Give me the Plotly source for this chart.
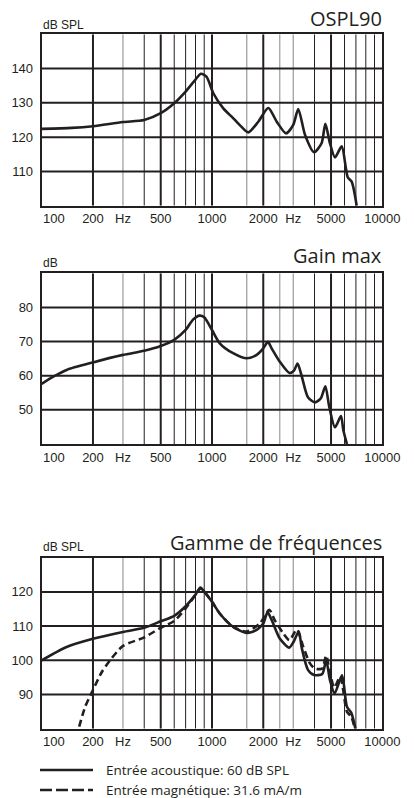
import plotly.graph_objects as go

# ---------------- data ----------------
X_TICKS = [100, 200, 300, 500, 1000, 2000, 3000, 5000, 10000]
X_TICKTEXT = ["", "200", "Hz", "500", "1000", "2000", "Hz", "5000", "10000"]
X_THICK = [200, 500, 1000, 2000, 5000]
X_THIN = [400, 600, 700, 800, 900, 4000, 6000, 7000, 8000, 9000]
X_GRAY = [300, 1600, 2500, 3000]

TITLES = ["OSPL90", "Gain max", "Gamme de fréquences"]
UNITS = ["dB SPL", "dB", "dB SPL"]
Y_RANGES = [(100, 150), (40, 90), (80, 130)]
Y_TICKS = [[110, 120, 130, 140], [50, 60, 70, 80], [90, 100, 110, 120]]

F_OSPL = [100, 150, 200, 300, 400, 500, 600, 700, 800, 860, 930, 1018, 1165, 1334, 1470,
          1633, 1870, 2140, 2400, 2720, 3000, 3210, 3520, 3970, 4400, 4630, 4930, 5275,
          5775, 6265, 6610, 7070]
V_OSPL = [122.4, 122.7, 123.2, 124.4, 125.0, 127.0, 129.9, 133.3, 136.8, 138.5, 137.6,
          132.8, 128.4, 125.5, 123.3, 121.4, 124.5, 128.5, 124.5, 121.1, 123.6, 128.2,
          120.6, 115.6, 118.2, 123.9, 118.2, 114.1, 117.3, 108.3, 107.0, 100.0]

F_GAIN = [100, 117, 140, 200, 300, 400, 500, 600, 700, 776, 845, 900, 1000, 1110, 1330,
          1600, 1830, 2000, 2130, 2240, 2500, 2850, 3030, 3180, 3370, 3660, 4020, 4360,
          4630, 4880, 5275, 5720, 5900, 6200]
V_GAIN = [57.6, 59.7, 61.7, 63.9, 66.1, 67.3, 68.7, 70.5, 73.4, 76.5, 77.6, 77.1, 73.4,
          69.5, 66.6, 65.1, 66.1, 68.0, 69.9, 68.0, 64.1, 60.8, 61.5, 63.6, 59.7, 53.7,
          52.2, 53.4, 56.9, 50.9, 44.9, 48.2, 44.1, 40.0]

F_AC = [100, 140, 200, 300, 400, 500, 600, 700, 800, 855, 900, 1000, 1110, 1330, 1600,
        1830, 2000, 2120, 2240, 2500, 2840, 3000, 3230, 3370, 3660, 3980, 4440, 4680,
        4930, 5250, 5800, 6200, 6570, 6950]
V_AC = [100.0, 103.9, 106.3, 108.3, 109.5, 111.4, 113.0, 115.8, 119.2, 121.3, 120.1,
        117.1, 113.7, 109.8, 108.0, 108.9, 110.8, 114.0, 111.8, 106.4, 103.7, 105.2,
        108.4, 103.5, 97.2, 95.7, 96.0, 100.0, 94.2, 90.3, 95.6, 86.4, 84.7, 80.0]

F_MAG = [166, 180, 200, 225, 252, 300, 400, 500, 600, 700, 800, 855, 900, 1000, 1110,
         1330, 1600, 1910, 2170, 2330, 2620, 2850, 3150, 3430, 3760, 4020, 4440, 4680,
         4930, 5230, 5660, 6200, 6570, 6900]
V_MAG = [80.6, 86.4, 91.3, 96.5, 100.0, 104.2, 106.7, 109.5, 111.5, 115.2, 119.1, 121.0,
         120.1, 117.1, 113.7, 109.8, 108.4, 110.8, 114.8, 111.8, 107.9, 105.9, 109.0,
         104.0, 99.1, 97.6, 97.6, 101.4, 96.2, 92.0, 95.2, 85.0, 83.5, 80.0]

LEGEND = ["Entrée acoustique: 60 dB SPL", "Entrée magnétique: 31.6 mA/m"]

# ---------------- layout helpers ----------------
W, H = 414, 798
PX_L, PX_R = 41.7, 382.3
PLOTS_PX = [(34.3, 205.7), (273.3, 444.0), (557.7, 728.7)]
INK = "#231f20"
TICK_FONT = dict(family="Liberation Sans Narrow, Arial Narrow, Liberation Sans, Arial", size=13, color=INK)
TITLE_FONT = dict(family="Open Sans, Roboto, sans-serif", size=20, color=INK)
LEG_FONT = dict(family="Open Sans, Roboto, sans-serif", size=13.5, color=INK)


def px_x(x):
    return x / W


def px_y(y):
    return 1 - y / H


fig = go.Figure()
annotations = []
shapes = []

curves = [
    [(F_OSPL, V_OSPL, "solid")],
    [(F_GAIN, V_GAIN, "solid")],
    [(F_AC, V_AC, "solid"), (F_MAG, V_MAG, "7px,4px")],
]

for i in range(3):
    xa = "x" if i == 0 else f"x{i+1}"
    ya = "y" if i == 0 else f"y{i+1}"
    lo, hi = Y_RANGES[i]
    # vertical grid lines
    for vals, col, wd in [(X_GRAY, "#9a9a9a", 1.2), (X_THIN, INK, 1.0), (X_THICK, INK, 2.0)]:
        xs, ys = [], []
        for v in vals:
            xs += [v, v, None]
            ys += [lo, hi, None]
        fig.add_trace(go.Scatter(x=xs, y=ys, mode="lines", line=dict(color=col, width=wd),
                                 xaxis=xa, yaxis=ya, showlegend=False, hoverinfo="skip"))
    # horizontal grid lines
    xs, ys = [], []
    for v in Y_TICKS[i]:
        xs += [100, 10000, None]
        ys += [v, v, None]
    fig.add_trace(go.Scatter(x=xs, y=ys, mode="lines", line=dict(color=INK, width=2.0),
                             xaxis=xa, yaxis=ya, showlegend=False, hoverinfo="skip"))
    for fx, vy, dash in curves[i]:
        fig.add_trace(go.Scatter(x=fx, y=vy, mode="lines",
                                 line=dict(color=INK, width=2.6, dash=dash, shape="spline", smoothing=0.7),
                                 xaxis=xa, yaxis=ya, showlegend=False))

    top, bot = PLOTS_PX[i]
    xkey = "xaxis" if i == 0 else f"xaxis{i+1}"
    ykey = "yaxis" if i == 0 else f"yaxis{i+1}"
    fig.update_layout(**{
        xkey: dict(type="log", range=[2, 4], domain=[px_x(PX_L), px_x(PX_R)], anchor=ya,
                   tickvals=X_TICKS, ticktext=X_TICKTEXT, tickfont=TICK_FONT, automargin=False,
                   showgrid=False, zeroline=False, showline=True, mirror=True,
                   linecolor=INK, linewidth=2, ticks="", ticklabelstandoff=0),
        ykey: dict(range=[lo, hi], domain=[px_y(bot), px_y(top)], anchor=xa,
                   tickvals=Y_TICKS[i], tickfont=TICK_FONT, automargin=False,
                   showgrid=False, zeroline=False, showline=True, mirror=True,
                   linecolor=INK, linewidth=2, ticks="", ticklabelstandoff=4),
    })
    # "100" label, left aligned at the axis start
    annotations.append(dict(text="100", x=px_x(PX_L - 1), y=px_y(bot + 13.0), xref="paper", yref="paper",
                            xanchor="left", yanchor="middle", showarrow=False, font=TICK_FONT))
    # title and unit
    title_y = [18.5, 255.5, 542.0][i]
    unit_y = [25.5, 263.0, 547.0][i]
    annotations.append(dict(text=TITLES[i], x=px_x(PX_R + 2), y=px_y(title_y), xref="paper", yref="paper",
                            xanchor="right", align="right", yanchor="middle", showarrow=False,
                            font=TITLE_FONT))
    annotations.append(dict(text=UNITS[i], x=px_x(PX_L - 1), y=px_y(unit_y), xref="paper", yref="paper",
                            xanchor="left", yanchor="middle", showarrow=False,
                            font=dict(family=TICK_FONT["family"], size=12, color=INK)))

# legend
for j, (label, dash) in enumerate(zip(LEGEND, ["solid", "12px,4px"])):
    ly = [770.0, 790.0][j]
    shapes.append(dict(type="line", xref="paper", yref="paper", x0=px_x(40), x1=px_x(93),
                       y0=px_y(ly), y1=px_y(ly), line=dict(color=INK, width=2.6, dash=dash)))
    annotations.append(dict(text=label, x=px_x(104), y=px_y(ly), xref="paper", yref="paper",
                            xanchor="left", align="left", yanchor="middle", showarrow=False, font=LEG_FONT))

fig.update_layout(width=W, height=H, autosize=False, margin=dict(l=0, r=0, t=0, b=0, autoexpand=False),
                  paper_bgcolor="white", plot_bgcolor="white", showlegend=False,
                  annotations=annotations, shapes=shapes)

fig.write_html("out.html", config={"displayModeBar": False},
               post_script="document.body.style.margin='0';document.body.style.overflow='hidden';")
